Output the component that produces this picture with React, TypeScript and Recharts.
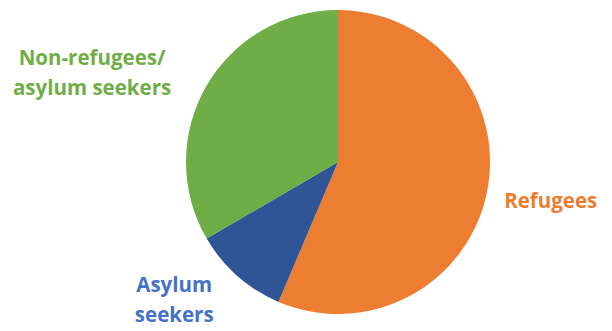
import { Cell, Pie, PieChart } from "recharts"

const categories = ["Refugees", "Asylum seekers", "Non-refugees/ asylum seekers"]
const shares = [56.4, 10.2, 33.4]
const labelLines = [["Refugees"], ["Asylum", "seekers"], ["Non-refugees/", "asylum seekers"]]

const sliceColors = ["#ED7D31", "#2F5597", "#70AD47"]
const textColors = ["#ED7D31", "#4472C4", "#70AD47"]

// nudges so labels sit where the original placed them
const nudges = [
  { dx: 3.5, dy: 12.6 },
  { dx: -54, dy: 5.3 },
  { dx: -102, dy: -14.5 },
]

const data = categories.map((name, i) => ({ name, value: shares[i] }))

const RADIAN = Math.PI / 180
const LINE_HEIGHT = 30

function renderLabel(props: any) {
  const { cx, cy, midAngle, outerRadius, index } = props
  const r = outerRadius + 14
  const cos = Math.cos(-midAngle * RADIAN)
  const x = cx + r * cos + nudges[index].dx
  const y = cy + r * Math.sin(-midAngle * RADIAN) + nudges[index].dy
  const anchor = cos >= 0 ? "start" : "middle"
  return (
    <text
      x={x}
      y={y}
      textAnchor={anchor}
      fill={textColors[index]}
      fontFamily="'Open Sans', sans-serif"
      fontWeight={700}
      fontSize={20.5}
    >
      {labelLines[index].map((line, i) => (
        <tspan key={line} x={x} y={y + i * LINE_HEIGHT}>
          {line}
        </tspan>
      ))}
    </text>
  )
}

export default function App() {
  return (
    <div style={{ position: "absolute", left: 0, top: 0, background: "#fff" }}>
      <PieChart width={612} height={331} margin={{ top: 0, right: 0, bottom: 0, left: 0 }}>
        <Pie
          data={data}
          dataKey="value"
          nameKey="name"
          cx={338}
          cy={162}
          outerRadius={152}
          startAngle={90}
          endAngle={-270}
          stroke="none"
          labelLine={false}
          label={renderLabel}
          isAnimationActive={false}
        >
          {data.map((d, i) => (
            <Cell key={d.name} fill={sliceColors[i]} />
          ))}
        </Pie>
      </PieChart>
    </div>
  )
}
